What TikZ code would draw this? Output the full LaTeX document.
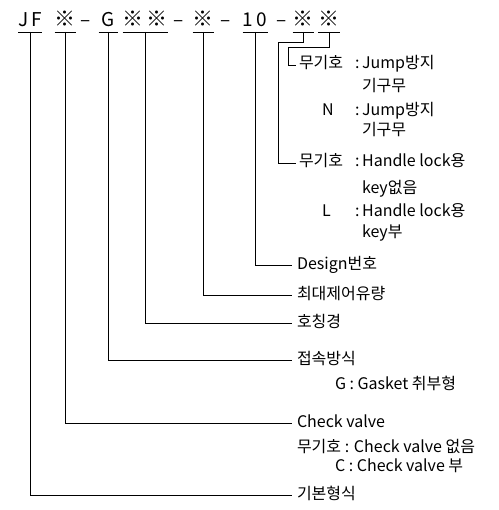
\documentclass[tikz,border=0pt]{standalone}
\usepackage{fontspec}
\setmainfont{Noto Sans CJK KR}
\newcommand\kome{{\fontsize{21}{21}\selectfont ※}}

\begin{document}
\begin{tikzpicture}[x=1pt,y=-1pt,line width=0.8pt,
  every node/.style={inner sep=0pt, outer sep=0pt},
  code/.style={font=\fontsize{19}{22}\selectfont, anchor=base, text depth=5pt},
  lbl/.style={font=\fontsize{16}{19}\selectfont, anchor=west, inner xsep=5pt, text height=11pt, text depth=3pt},
  txt/.style={font=\fontsize{16}{19}\selectfont, anchor=west, text height=11pt, text depth=3pt}]
\useasboundingbox (0,0) rectangle (498,510);

% model code
\node[code, minimum width=20pt] (jf) at (30,27) {J\,F};
\node[code, minimum width=20pt] (cv) at (65,27) {\kome};
\node[code] (d1) at (86,27) {–};
\node[code, minimum width=19pt] (g) at (108,27) {G};
\node[code, minimum width=45pt] (sz) at (145,27) {\kome\hspace{3pt}\kome};
\node[code] (d2) at (179,27) {–};
\node[code, minimum width=20pt] (fl) at (203,27) {\kome};
\node[code] (d3) at (226,27) {–};
\node[code, minimum width=25pt] (dn) at (255,27) {1\,0};
\node[code] (d4) at (282,27) {–};
\node[code, minimum width=20pt] (hl) at (303,27) {\kome};
\node[code, minimum width=22pt] (jp) at (329,27) {\kome};
\foreach \n in {jf,cv,g,sz,fl,dn,hl,jp}
  \draw (\n.south west) -- (\n.south east);

% jump
\node[lbl, inner xsep=3pt] (jump) at (296,65) {무기호};
\node[txt] (jumpA) at (355,65) {:\,Jump방지};
\node[txt] (jumpA2) at (362,88) {기구무};
\node[txt] (jumpN) at (322,112) {N};
\node[txt] (jumpB) at (355,112) {:\,Jump방지};
\node[txt] (jumpB2) at (362,132) {기구무};

% handle lock
\node[lbl, inner xsep=3pt] (handle) at (296,163) {무기호};
\node[txt] (handleA) at (355,163) {:\,Handle lock용};
\node[txt] (handleA2) at (362,190) {key없음};
\node[txt] (handleL) at (322,213) {L};
\node[txt] (handleB) at (355,213) {:\,Handle lock용};
\node[txt] (handleB2) at (362,233) {key부};

% other items
\node[lbl] (design) at (292,265) {Design번호};
\node[lbl] (flow) at (292,295) {최대제어유량};
\node[lbl] (size) at (292,323) {호칭경};
\node[lbl] (conn) at (292,360) {접속방식};
\node[txt] (connG) at (335,385) {G : Gasket 취부형};
\node[lbl] (check) at (292,423) {Check valve};
\node[txt] (checkA) at (297,448) {무기호 : Check valve 없음};
\node[txt] (checkC) at (335,467) {C : Check valve 부};
\node[lbl] (kihon) at (292,495) {기본형식};

% leaders
\coordinate (hbend) at (278,42);
\coordinate (jbend) at (288,47);
\draw (jp.south) |- (jbend) |- (jump.west);
\draw (hl.south) |- (hbend) |- (handle.west);
\draw (dn.south) |- (design.west);
\draw (fl.south) |- (flow.west);
\draw (sz.south) |- (size.west);
\draw (g.south) |- (conn.west);
\draw (cv.south) |- (check.west);
\draw (jf.south) |- (kihon.west);
\end{tikzpicture}
\end{document}
